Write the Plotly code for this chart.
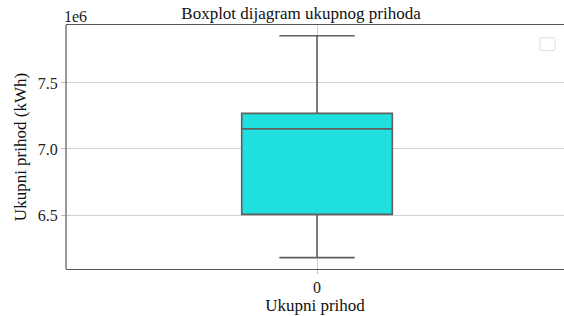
import plotly.graph_objects as go

# Data
categories = [0]
q1_vals = [6.505e6]
median_vals = [7.152e6]
q3_vals = [7.270e6]
lower_whisker = [6.177e6]
upper_whisker = [7.858e6]
y_tick_vals = [6.5e6, 7.0e6, 7.5e6]
y_tick_text = ["6.5", "7.0", "7.5"]
x_tick_text = ["0"]

FONT = "Liberation Serif"

fig = go.Figure()
fig.add_trace(go.Box(
    x=categories,
    q1=q1_vals, median=median_vals, q3=q3_vals,
    lowerfence=lower_whisker, upperfence=upper_whisker,
    width=0.3, whiskerwidth=0.5,
    fillcolor="#20DFDF",
    line=dict(color="#5f5f5f", width=1.6),
    boxpoints=False, showlegend=False, hoverinfo="skip",
))

W, H = 564, 316
L, R, T, B = 66, 0, 25, 47

fig.update_layout(
    width=W, height=H, autosize=False,
    margin=dict(l=L, r=R, t=T, b=B, pad=0, autoexpand=False),
    paper_bgcolor="white", plot_bgcolor="white",
    font=dict(family=FONT, size=16, color="#222"),
    title=dict(text="Boxplot dijagram ukupnog prihoda", x=301 / W, xanchor="center",
               y=1 - 13 / H, yanchor="middle", font=dict(family=FONT, size=17, color="#111")),
    xaxis=dict(
        type="linear", range=[-0.5, 0.492], automargin=False,
        tickvals=categories, ticktext=x_tick_text,
        showgrid=True, gridcolor="rgba(170,170,170,0.55)", gridwidth=1,
        showline=True, linecolor="#555", linewidth=1.2, mirror=True,
        ticks="outside", ticklen=4, tickcolor="#bbb",
        zeroline=False, layer="above traces",
        title=dict(text="Ukupni prihod", font=dict(family=FONT, size=17, color="#111"), standoff=2),
        tickfont=dict(family=FONT, size=16, color="#222"),
    ),
    yaxis=dict(
        range=[6.091e6, 7.939e6], automargin=False,
        tickvals=y_tick_vals, ticktext=y_tick_text,
        showgrid=True, gridcolor="rgba(170,170,170,0.55)", gridwidth=1,
        showline=False,
        ticks="outside", ticklen=4, tickcolor="#bbb",
        zeroline=False, layer="above traces",
        title=dict(text="Ukupni prihod (kWh)", font=dict(family=FONT, size=17, color="#111"), standoff=6),
        tickfont=dict(family=FONT, size=16, color="#222"),
    ),
    annotations=[dict(text="1e6", xref="paper", yref="paper", x=0, y=1, xanchor="left",
                      yanchor="bottom", xshift=-4, yshift=-2, showarrow=False,
                      font=dict(family=FONT, size=16, color="#222"))],
    shapes=[
        dict(type="line", xref="paper", yref="paper", x0=0, x1=0, y0=0, y1=1,
             line=dict(color="#555", width=1.2), layer="above"),
        dict(type="path", xref="paper", yref="paper",
             path="M 0.9578,0.9475 L 0.9759,0.9475 Q 0.9819,0.9475 0.9819,0.9438 "
                  "L 0.9819,0.9000 Q 0.9819,0.8950 0.9759,0.8950 L 0.9578,0.8950 "
                  "Q 0.9518,0.8950 0.9518,0.9000 L 0.9518,0.9438 Q 0.9518,0.9475 0.9578,0.9475 Z",
             line=dict(color="#dddddd", width=1), fillcolor="white"),
    ],
)

fig.write_html("out.html", config={"displayModeBar": False},
               post_script="document.body.style.margin='0';document.body.style.overflow='hidden';")
